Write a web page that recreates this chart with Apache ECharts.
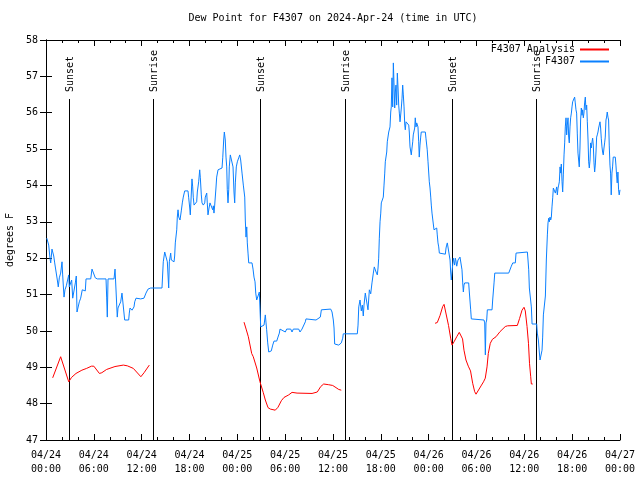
<!DOCTYPE html>
<html>
<head>
<meta charset="utf-8">
<script src="https://cdn.jsdelivr.net/npm/echarts@6/dist/echarts.min.js"></script>
<style>html,body{margin:0;padding:0;background:#fff}#c{width:640px;height:480px}</style>
</head>
<body>
<div id="c"></div>
<script>
// ---- data (x = hours since 2024-04-24 00:00 UTC, y = degrees F) ----
var titleText = 'Dew Point for F4307 on 2024-Apr-24 (time in UTC)';
var yAxisName = 'degrees F';
var stationName = 'F4307';
var analysisName = 'F4307 Analysis';

var stationData = [
[0.1,52.55],[0.25,52.5],[0.34,52.36],[0.5,52.0],[0.59,51.87],[0.66,52.03],[0.75,52.25],[0.92,52.25],[0.97,52.06],[1.09,51.87],[1.34,51.87],[1.42,51.4],[1.54,51.21],[1.67,51.46],[1.84,51.59],[2.01,51.9],[2.09,51.54],[2.26,50.93],[2.38,51.13],[2.55,51.24],[2.76,51.26],[2.85,51.54],[2.92,51.21],[3.1,51.26],[3.22,51.4],[3.35,50.9],[3.6,50.9],[3.68,51.32],[3.8,51.51],[3.89,50.52],[4.01,50.57],[4.18,50.8],[4.35,50.9],[4.55,51.13],[4.68,51.1],[4.93,51.1],[5.02,51.43],[5.61,51.43],[5.77,51.7],[6.02,51.73],[6.18,51.46],[6.44,51.43],[6.69,51.4],[7.53,51.43],[7.61,50.93],[7.69,50.38],[7.78,51.43],[8.53,51.43],[8.66,51.7],[8.87,51.7],[8.94,50.38],[9.03,50.63],[9.19,50.71],[9.37,50.8],[9.53,51.04],[9.78,50.99],[9.87,50.3],[10.37,50.3],[10.45,50.49],[10.54,50.63],[10.79,50.57],[11.04,50.66],[11.13,50.8],[11.29,50.9],[11.88,50.88],[12.29,50.9],[12.54,51.04],[12.8,51.15],[13.13,51.18],[14.55,51.18],
[14.71,51.9],[14.89,52.17],[15.14,52.17],[15.22,51.9],[15.39,51.18],[15.47,51.9],[15.64,52.14],[15.72,51.95],[15.84,51.9],[16.06,51.9],[16.14,52.06],[16.22,52.42],[16.4,52.78],[16.47,53.13],[16.56,53.33],[16.65,53.13],[16.81,53.05],[16.97,53.3],[17.1,53.52],[17.22,53.68],[17.4,53.85],[17.81,53.85],[17.9,53.66],[18.03,53.38],[18.1,53.19],[18.19,53.6],[18.31,54.18],[18.4,53.96],[18.48,53.66],[18.57,53.46],[18.73,53.44],[18.9,53.55],[18.98,53.82],[19.15,54.1],[19.28,54.43],[19.36,54.21],[19.48,53.74],[19.57,53.52],[19.73,53.46],[19.91,53.52],[19.98,53.68],[20.16,53.79],[20.23,53.52],[20.32,53.19],[20.45,53.38],[20.57,53.52],[20.82,53.52],[20.91,53.33],[20.99,53.44],[21.07,53.24],[21.16,53.46],[21.32,53.93],[21.41,54.23],[21.58,54.43],[22.08,54.48],[22.17,54.76],[22.29,55.25],[22.37,55.47],[22.49,55.25],[22.58,54.78],[22.67,54.51],[22.74,53.88],[22.83,53.52],[22.92,53.88],[22.99,54.51],[23.12,54.84],[23.37,54.84],[23.46,54.51],[23.58,53.82],[23.67,53.52],[23.75,54.07],[23.87,54.51],[24.0,54.65],[24.17,54.76],[24.3,54.84],[24.42,54.7],[24.59,54.34],[24.75,54.01],[24.93,53.68],[25.0,53.05],[25.09,52.58],[25.18,52.86],[25.25,52.42],[25.34,52.14],[25.43,51.87],[25.84,51.87],[25.97,51.7],[26.09,51.48],[26.22,51.35],[26.31,51.04],[26.43,50.85],[26.68,50.85],[26.76,51.07],[26.88,51.07],
[26.93,50.11],[27.35,50.16],[27.51,50.44],[27.6,50.22],[27.68,50.03],[27.81,49.67],[27.94,49.42],[28.26,49.45],[28.44,49.61],[28.6,49.72],[28.94,49.72],[29.1,49.83],[29.27,49.94],[29.35,50.05],[30.02,49.97],[30.19,50.05],[30.7,50.05],[30.86,49.97],[31.02,50.05],[31.7,50.05],[31.86,49.97],[32.11,50.05],[32.36,50.05],[32.53,50.25],[32.61,50.33],[33.87,50.3],[34.41,50.38],[34.54,50.58],[34.71,50.63],[35.71,50.6],[35.88,50.52],[36.04,50.3],[36.13,50.08],[36.21,49.64],[36.72,49.61],[36.97,49.59],[37.04,49.67],[37.22,49.8],[37.29,49.92],[39.05,49.92],[39.14,50.16],[39.23,50.66],[39.39,50.85],[39.55,50.55],[39.68,50.71],[39.8,50.41],[39.89,50.71],[40.05,51.04],[40.23,51.07],[40.39,50.58],[40.56,51.13],[40.73,51.02],[40.89,51.32],[41.06,51.59],[41.18,51.76],[41.31,51.81],[41.4,51.62],[41.56,51.54],[41.65,51.73],[41.73,52.0],[41.81,52.55],[41.9,53.0],[41.99,53.24],[42.06,53.52],[42.24,53.52],[42.31,53.68],[42.4,54.01],[42.49,54.34],[42.56,54.65],[42.74,54.92],[42.81,55.2],[42.99,55.47],[43.15,55.61],[43.24,56.02],[43.31,56.16],[43.4,56.96],[43.49,56.16],[43.57,57.37],[43.65,56.82],[43.74,56.13],[43.82,56.57],[43.9,56.76],[43.99,56.21],[44.07,57.09],[44.16,56.68],[44.24,56.21],[44.32,55.99],[44.41,55.75],[44.49,55.8],[44.57,56.13],[44.66,56.4],[44.74,56.76],[44.82,56.49],[44.91,56.16],[45.0,55.66],[45.07,55.53],[45.16,55.75],[45.41,55.75],[45.5,55.66],[45.57,55.47],[45.66,55.06],[45.75,55.03],[45.82,54.84],[45.91,55.03],[46.0,55.2],[46.07,55.39],[46.25,55.58],[46.32,55.86],[46.41,55.61],[46.5,55.72],[46.66,55.61],[46.75,55.2],[46.82,54.78],[46.91,55.11],[47.0,55.33],[47.07,55.47],[47.58,55.47],[47.66,55.3],[47.75,55.33],[47.82,54.98],[47.92,54.65],[48.08,54.1],[48.17,53.93],[48.26,53.68],[48.33,53.46],[48.42,53.24],[48.58,53.19],[48.67,52.78],[49.01,52.83],[49.08,52.64],[49.17,52.42],[49.26,52.31],[49.34,52.14],[50.09,52.11],[50.18,52.28],[50.26,52.36],[50.34,52.42],[50.59,52.42],[50.68,51.95],[50.76,51.62],[50.84,51.4],[50.93,51.62],[51.01,51.81],[51.09,52.0],[51.18,51.95],[51.26,51.81],[51.34,52.0],[51.43,51.92],[51.52,51.78],[51.6,51.87],[51.68,51.95],[51.84,52.0],[51.93,52.03],[52.1,52.03],[52.18,51.68],[52.27,51.32],[52.35,51.07],[52.43,51.26],[52.52,51.32],[53.02,51.32],[53.1,51.07],[53.27,50.58],[53.35,50.33],[53.44,50.3],[54.94,50.3],[55.03,50.22],[55.11,49.34],[55.19,50.22],[55.28,50.3],[55.36,50.58],[55.44,50.63],[55.95,50.58],[56.03,50.85],[56.2,51.32],[56.29,51.59],[58.04,51.59],[58.21,51.62],[58.37,51.78],[58.55,51.87],[58.87,51.87],[58.96,52.14],[59.12,52.17],[60.38,52.17],[60.46,51.95],[60.55,51.68],[60.63,51.18],[60.8,51.15],[60.88,50.66],[60.97,50.19],[61.55,50.19],[61.63,49.94],[61.76,49.75],[61.88,49.42],[61.97,49.2],[62.13,49.2],[62.22,49.47],[62.3,49.83],[62.39,50.44],[62.56,50.46],[62.64,50.96],[62.76,51.95],[62.89,52.64],[62.97,52.97],[63.06,53.1],[63.14,53.0],[63.22,53.13],[63.31,53.05],[63.39,53.13],[63.47,53.41],[63.56,53.66],[63.64,53.93],[63.81,53.93],[63.89,53.79],[63.98,53.88],[64.06,53.96],[64.14,53.74],[64.23,53.93],[64.31,54.01],[64.39,54.1],[64.48,54.51],[64.56,54.34],[64.64,54.59],[64.73,54.1],[64.81,53.82],[64.89,54.29],[64.98,54.84],[65.06,55.17],[65.14,55.61],[65.23,55.86],[65.31,55.39],[65.39,55.66],[65.48,55.86],[65.56,55.33],[65.64,55.17],[65.73,55.61],[65.81,55.86],[65.9,55.99],[65.98,56.16],[66.06,56.3],[66.23,56.35],[66.31,56.43],[66.39,56.27],[66.48,56.08],[66.56,55.99],[66.64,55.44],[66.73,54.89],[66.81,54.92],[66.89,54.51],[66.98,55.03],[67.06,55.8],[67.15,56.13],[67.23,55.93],[67.31,56.08],[67.4,55.86],[67.48,55.99],[67.56,56.27],[67.65,56.43],[67.73,56.08],[67.82,56.21],[67.9,55.75],[67.99,55.25],[68.07,54.65],[68.15,54.48],[68.24,54.7],[68.32,55.17],[68.4,55.03],[68.49,55.2],[68.57,55.3],[68.65,55.11],[68.74,54.62],[68.82,54.37],[68.9,54.56],[68.99,54.92],[69.07,55.33],[69.15,55.39],[69.24,55.47],[69.32,55.58],[69.4,55.66],[69.49,55.75],[69.57,55.58],[69.65,55.3],[69.74,55.06],[69.82,54.92],[69.9,54.84],[69.99,55.03],[70.07,55.17],[70.15,55.33],[70.24,55.8],[70.32,55.88],[70.4,56.02],[70.49,55.88],[70.57,55.8],[70.65,55.11],[70.74,54.56],[70.82,54.34],[70.9,53.74],[70.99,54.34],[71.07,54.51],[71.15,54.78],[71.41,54.78],[71.49,54.56],[71.57,54.29],[71.65,54.07],[71.74,54.37],[71.82,53.88],[71.9,53.74],[72.0,53.88]
];

var analysisDay1 = [
[0.84,48.71],[1.84,49.29],[2.85,48.6],[3.2,48.72],[3.76,48.83],[4.5,48.92],[5.1,48.97],[5.7,49.03],[6.0,49.03],[6.7,48.83],[7.0,48.85],[7.6,48.94],[8.65,49.02],[9.7,49.06],[10.2,49.04],[10.95,48.97],[11.9,48.74],[12.3,48.85],[12.96,49.06]
];
var analysisDay2 = [
[24.84,50.24],[25.1,50.05],[25.38,49.84],[25.8,49.38],[26.0,49.29],[26.43,48.98],[26.84,48.6],[27.26,48.3],[27.51,48.1],[27.85,47.89],[28.14,47.85],[28.76,47.82],[29.1,47.9],[29.52,48.08],[29.85,48.17],[30.44,48.24],[30.86,48.31],[31.49,48.29],[33.37,48.28],[34.03,48.32],[34.46,48.47],[34.83,48.54],[35.46,48.52],[35.96,48.5],[36.38,48.44],[36.72,48.39],[37.04,48.37]
];
var analysisDay3 = [
[48.8,50.21],[49.08,50.23],[49.42,50.42],[49.76,50.67],[49.93,50.73],[50.18,50.72],[50.49,50.15],[50.76,49.8],[50.93,49.61],[51.18,49.7],[51.52,49.84],[51.84,49.96],[52.06,49.95],[52.25,49.78],[52.43,49.47],[52.68,49.2],[52.97,49.03],[53.25,48.9],[53.52,48.56],[53.77,48.33],[53.94,48.26],[54.19,48.3],[54.63,48.51],[54.88,48.6],[55.1,48.7],[55.32,49.01],[55.48,49.38],[55.73,49.66],[56.0,49.77],[56.45,49.84],[56.95,49.98],[57.61,50.12],[57.89,50.14],[59.12,50.15],[59.4,50.34],[59.71,50.57],[59.96,50.65],[60.12,50.55],[60.34,50.12],[60.52,49.66],[60.65,49.11],[60.8,48.74],[60.88,48.54],[61.05,48.54]
];

var sunEventHours = [2.92, 13.46, 26.88, 37.54, 50.97, 61.5];
var sunEventLabels = ['Sunset', 'Sunrise', 'Sunset', 'Sunrise', 'Sunset', 'Sunrise'];

var xMin = 0, xMax = 72, xStep = 6;
var yMin = 47, yMax = 58, yStep = 1;
var startDay = 24;

// ---- styling / layout ----
var FONT = '"DejaVu Sans Mono", "Liberation Mono", monospace';
var FS = 10;
var sunLineTop = 56.38;
var BLUE = '#0a80ff', RED = '#ff0000';

function pad(n){ return (n < 10 ? '0' : '') + n; }
function xLabel(v){
  var day = startDay + Math.floor(v / 24);
  var hr = v % 24;
  return '04/' + pad(day) + '\n' + pad(hr) + ':00';
}

var chart = echarts.init(document.getElementById('c'), null, {renderer: 'canvas'});

var axisCommon = {
  axisLine: {show: true, lineStyle: {color: '#000', width: 1}},
  splitLine: {show: false}
};

function redSeries(d){
  return {type: 'line', name: analysisName, data: d, symbol: 'none', showSymbol: false,
    lineStyle: {color: RED, width: 1}, itemStyle: {color: RED}, z: 3, animation: false};
}

var legendCommon = {
  orient: 'vertical', right: 30, align: 'right', padding: 0,
  itemWidth: 29, itemHeight: 12, selectedMode: false,
  itemStyle: {opacity: 0, borderWidth: 0},
  textStyle: {fontFamily: FONT, fontSize: FS, color: '#000'}
};

var option = {
  animation: false,
  backgroundColor: '#fff',
  title: {
    text: titleText, left: 333, top: 13, textAlign: 'center', padding: 0,
    textStyle: {fontFamily: FONT, fontSize: FS, fontWeight: 'normal', color: '#000'}
  },
  legend: [
    Object.assign({}, legendCommon, {data: [analysisName], top: 44.5}),
    Object.assign({}, legendCommon, {data: [stationName], top: 56.5})
  ],
  grid: {left: 46, right: 20, top: 40, bottom: 40, containLabel: false, outerBoundsMode: 'none'},
  xAxis: [
    Object.assign({}, axisCommon, {
      type: 'value', min: xMin, max: xMax, interval: xStep, position: 'bottom',
      axisTick: {show: true, inside: true, length: 6, lineStyle: {color: '#000'}},
      minorTick: {show: true, splitNumber: 3, length: 3, lineStyle: {color: '#000'}},
      axisLabel: {formatter: xLabel, fontFamily: FONT, fontSize: FS, color: '#000', margin: 8, lineHeight: 14}
    }),
    Object.assign({}, axisCommon, {
      type: 'value', min: xMin, max: xMax, interval: xStep, position: 'top',
      axisTick: {show: true, inside: true, length: 6, lineStyle: {color: '#000'}},
      minorTick: {show: true, splitNumber: 3, length: 3, lineStyle: {color: '#000'}},
      axisLabel: {show: false}
    })
  ],
  yAxis: [
    Object.assign({}, axisCommon, {
      type: 'value', min: yMin, max: yMax, interval: yStep, position: 'left',
      axisTick: {show: true, inside: true, length: 6, lineStyle: {color: '#000'}},
      axisLabel: {fontFamily: FONT, fontSize: FS, color: '#000', margin: 8},
      name: yAxisName, nameLocation: 'middle', nameGap: 31,
      nameTextStyle: {fontFamily: FONT, fontSize: FS, color: '#000'}
    }),
    Object.assign({}, axisCommon, {
      type: 'value', min: yMin, max: yMax, interval: yStep, position: 'right',
      axisTick: {show: true, inside: true, length: 6, lineStyle: {color: '#000'}},
      axisLabel: {show: false}
    })
  ],
  series: [
    {
      type: 'custom', name: 'sun', xAxisIndex: 0, yAxisIndex: 0,
      data: sunEventHours.map(function(h){ return [h, sunLineTop]; }),
      encode: {x: 0, y: 1}, z: 2, silent: true,
      renderItem: function(params, api){
        var h = api.value(0);
        var top = api.coord([h, api.value(1)]);
        var bot = api.coord([h, yMin]);
        var x = Math.round(top[0]) + 0.5;
        return {type: 'group', children: [
          {type: 'line', shape: {x1: x, y1: Math.round(top[1]), x2: x, y2: bot[1]},
           style: {stroke: '#000', lineWidth: 1}},
          {type: 'text', x: x + 1, y: Math.round(top[1]) - 7, rotation: Math.PI / 2,
           style: {text: sunEventLabels[params.dataIndex], fill: '#000',
                   font: FS + 'px ' + FONT, align: 'left', verticalAlign: 'middle'}}
        ]};
      }
    },
    redSeries(analysisDay1),
    redSeries(analysisDay2),
    redSeries(analysisDay3),
    {type: 'line', name: stationName, data: stationData, symbol: 'none', showSymbol: false,
     lineStyle: {color: BLUE, width: 1}, itemStyle: {color: BLUE}, z: 4, animation: false}
  ]
};
chart.setOption(option);
</script>
</body>
</html>
